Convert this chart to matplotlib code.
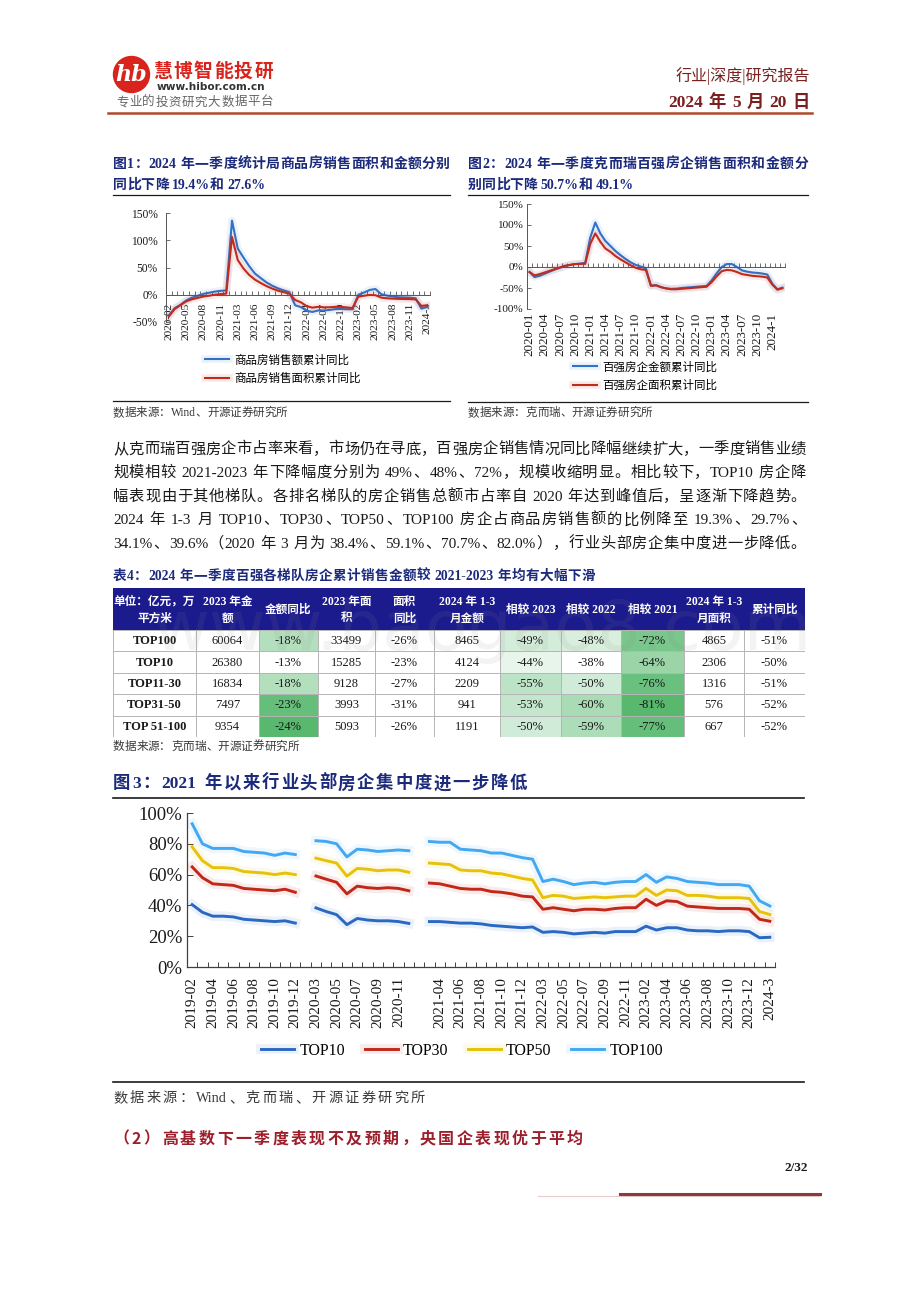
"""Report page 2: two small YoY charts, table 4 and figure 3, drawn as one page image."""

import matplotlib
matplotlib.use("Agg")
import matplotlib.pyplot as plt
import matplotlib.patheffects as pe
import numpy as np
from matplotlib.colors import LinearSegmentedColormap, Normalize
from matplotlib.lines import Line2D
from matplotlib.patches import Circle, Rectangle

CJK = "Noto Sans CJK SC"
SERIF = ["Liberation Serif", CJK]
plt.rcParams["font.family"] = [CJK, "DejaVu Sans"]
plt.rcParams["axes.unicode_minus"] = False

W, H = 920, 1301
NAVY = "#1c2a7c"
INK = "#1a1a1a"
GREY = "#3a3a3a"
BLUE = "#2f72c8"
RED = "#c22a1c"
BRICK = "#7a1f1f"
NA = float("nan")

# ---- figure 1: NBS commodity housing, cumulative YoY (%), 2020-02 .. 2024-03
FIG1_TICKS = ["2020-02", "2020-05", "2020-08", "2020-11", "2021-03", "2021-06", "2021-09",
              "2021-12", "2022-04", "2022-07", "2022-10", "2023-02", "2023-05", "2023-08",
              "2023-11", "2024-3"]
FIG1_AMOUNT = [-38, -24.7, -18.6, -10.6, -5.4, -2.1, 1.6, 3.7, 5.8, 7.2, 8.0,
               136, 85, 68.2, 52.4, 38.9, 30.7, 22.8, 16.6, 11.8, 8.0, 4.8,
               -19.3, -22.7, -29.5, -31.5, -28.9, -28.8, -27.9, -26.3, -26.1, -26.6, -26.7,
               -0.1, 4.1, 8.8, 10.5, 1.1, -1.5, -3.2, -4.6, -4.9, -5.2, -6.5,
               -25.5, -22.5]
FIG1_AREA = [-39.9, -26.3, -19.3, -12.3, -8.4, -5.8, -3.3, -1.8, 0.0, 1.3, 2.0,
             106, 63.8, 48.1, 36.3, 27.7, 21.5, 15.9, 11.3, 7.5, 4.8, 1.9,
             -9.6, -13.8, -20.9, -23.6, -22.2, -23.1, -23.0, -22.2, -22.3, -23.3, -24.3,
             -3.6, -1.8, -0.4, -0.9, -5.3, -6.5, -7.1, -7.5, -7.8, -8.0, -8.5,
             -20.5, -19.4]
FIG1_NAMES = ["商品房销售额累计同比", "商品房销售面积累计同比"]
FIG1_YTICKS = [-50, 0, 50, 100, 150]

# ---- figure 2: CRIC top-100 developers, cumulative YoY (%), 2020-01 .. 2024-03
FIG2_TICKS = ["2020-01", "2020-04", "2020-07", "2020-10", "2021-01", "2021-04", "2021-07",
              "2021-10", "2022-01", "2022-04", "2022-07", "2022-10", "2023-01", "2023-04",
              "2023-07", "2023-10", "2024-1"]
FIG2_AMOUNT = [-12, -24, -21, -16, -11, -6, -2, 2, 5, 7, 8, 10,
               70, 106, 80, 62, 50, 38, 28, 19, 11, 5, 1, -3,
               -44, -43, -48, -51, -52, -51.5, -50, -49, -48, -47, -46, -45,
               -32, -15, 0, 7, 7, 0, -8, -11, -13, -14, -15.5, -18, -40, -53, -49.1]
FIG2_AREA = [-12, -20, -17, -13, -9, -5, -1, 3, 5, 7, 7.5, 7.5,
             55, 80, 60, 44, 36, 26, 18, 11, 4, -2, -5.5, -7,
             -45, -44, -48, -51, -53, -53, -52, -51, -50, -49, -48, -47,
             -36, -22, -10, -7, -8, -12, -17, -19, -21, -22, -23, -25, -42, -54, -50.7]
FIG2_NAMES = ["百强房企金额累计同比", "百强房企面积累计同比"]
FIG2_YTICKS = [-100, -50, 0, 50, 100, 150]

# ---- table 4
TABLE_HEAD = ["单位：亿元，万\n平方米", "2023 年金\n额", "金额同比", "2023 年面\n积", "面积\n同比",
              "2024 年 1-3\n月金额", "相较 2023", "相较 2022", "相较 2021", "2024 年 1-3\n月面积",
              "累计同比"]
TIERS = ["TOP100", "TOP10", "TOP11-30", "TOP31-50", "TOP 51-100"]
AMOUNT_2023 = [60064, 26380, 16834, 7497, 9354]
AMOUNT_YOY = [-18, -13, -18, -23, -24]
AREA_2023 = [33499, 15285, 9128, 3993, 5093]
AREA_YOY = [-26, -23, -27, -31, -26]
AMOUNT_Q1 = [8465, 4124, 2209, 941, 1191]
VS_2023 = [-49, -44, -55, -53, -50]
VS_2022 = [-48, -38, -50, -60, -59]
VS_2021 = [-72, -64, -76, -81, -77]
AREA_Q1 = [4865, 2306, 1316, 576, 667]
AREA_CUM_YOY = [-51, -50, -51, -52, -52]

# ---- figure 3: market share of top developers (%), gaps where Jan/Feb were not reported
FIG3_TICKS = ["2019-02", "2019-04", "2019-06", "2019-08", "2019-10", "2019-12", "2020-03",
              "2020-05", "2020-07", "2020-09", "2020-11", "", "2021-04", "2021-06", "2021-08",
              "2021-10", "2021-12", "2022-03", "2022-05", "2022-07", "2022-09", "2022-11",
              "2023-02", "2023-04", "2023-06", "2023-08", "2023-10", "2023-12", "2024-3"]
FIG3_TOP10 = [40.5, 35.5, 33, 33, 32.5, 31, 30.5, 30, 29.5, 30, 28.5, NA,
              38.4, 36, 34, 27.5, 31.5, 30.5, 30, 30, 29.5, 28.3, NA,
              29.5, 29.5, 29, 28.5, 28.5, 28, 27, 26.5, 26, 25.5, 26,
              22.5, 23, 22.5, 21.5, 22, 22.5, 22, 23, 23, 23,
              26.5, 24, 25.5, 25.5, 24, 23.5, 23.5, 23, 23.5, 23.5, 23, 19, 19.3]
FIG3_TOP30 = [65, 58, 54, 53.5, 53, 51, 50.5, 50, 49.5, 50.5, 48.5, NA,
              59.1, 57, 55, 47.5, 52.5, 51.5, 51, 51.5, 51, 49.5, NA,
              54.5, 54, 52.5, 51, 50.5, 50.5, 49, 48.5, 47.5, 46, 45.5,
              37.5, 38.5, 37.5, 36.5, 37.5, 37.5, 37, 38, 38.5, 38.5,
              44, 40, 43, 42.5, 39.5, 39, 38.5, 38, 38, 38, 37.5, 31, 29.7]
FIG3_TOP50 = [78, 69, 64.5, 64.5, 64, 62, 61.5, 61, 60, 61, 60, NA,
              70.7, 69, 67.5, 59, 64, 63.5, 62.5, 63, 63, 61.5, NA,
              67.5, 67, 66.5, 63, 62.5, 62.5, 61, 60.5, 59, 57.5, 56.5,
              45, 46.5, 46, 44.5, 45, 45.5, 45, 45.5, 46, 46,
              51, 46.5, 50, 49.5, 46.5, 46.5, 46, 45, 45, 45, 44.5, 36, 34.1]
FIG3_TOP100 = [93, 80, 77, 77, 77, 75, 74.5, 74, 72.5, 74, 73, NA,
               82.0, 81.5, 80, 71.5, 76.5, 76, 75, 75.5, 76, 75.5, NA,
               81.5, 81, 81, 76.5, 76, 75.5, 74, 74, 72.5, 71, 70,
               55.5, 57, 55.5, 53.5, 54.5, 55, 54, 55, 55.5, 55.5,
               60, 55, 58.5, 57.5, 55.5, 55, 54.5, 53.5, 53.5, 53.5, 52.5, 43, 39.6]
FIG3_NAMES = ["TOP10", "TOP30", "TOP50", "TOP100"]
FIG3_COLORS = ["#2b68c2", "#c0281a", "#e6c20a", "#44a8f0"]
FIG3_YTICKS = [0, 20, 40, 60, 80, 100]

PARAGRAPH = [
    "从克而瑞百强房企市占率来看，市场仍在寻底，百强房企销售情况同比降幅继续扩大，一季度销售业绩",
    "规模相较 2021-2023 年下降幅度分别为 49%、48%、72%，规模收缩明显。相比较下，TOP10 房企降",
    "幅表现由于其他梯队。各排名梯队的房企销售总额市占率自 2020 年达到峰值后，呈逐渐下降趋势。",
    "2024 年 1-3 月 TOP10、TOP30、TOP50、TOP100 房企占商品房销售额的比例降至 19.3%、29.7%、",
    "34.1%、39.6%（2020 年 3 月为 38.4%、59.1%、70.7%、82.0%），行业头部房企集中度进一步降低。",
]

fig = plt.figure(figsize=(W / 100, H / 100), dpi=100)
fig.patch.set_facecolor("white")


def fx(x):
    return x / W


def fy(y):
    return 1 - y / H


def rule(x0, x1, y, color=INK, lw=0.9):
    fig.add_artist(Line2D([fx(x0), fx(x1)], [fy(y), fy(y)], color=color, lw=lw,
                          transform=fig.transFigure))


def tokens(s):
    out, word = [], ""
    for ch in s:
        if ch.isascii() and ch != " ":
            word += ch
            continue
        if word:
            out.append(word)
            word = ""
        out.append(ch)
    if word:
        out.append(word)
    return out


def text_width(s, size, weight, family):
    t = fig.text(0, 0, s, fontsize=size, weight=weight, family=family)
    w = t.get_window_extent(renderer=fig.canvas.get_renderer()).width
    t.remove()
    return w


def spread(s, x0, y, size, x1=None, color=INK, weight="normal", family=SERIF):
    """Write s from x0 at centre height y; with x1 the glyphs are justified to end there."""
    toks = tokens(s)
    widths = [size * 0.35 if t == " " else text_width(t, size, weight, family) for t in toks]
    gap = 0.0
    if x1 is not None and len(toks) > 1:
        gap = (x1 - x0 - sum(widths)) / (len(toks) - 1)
    base = y + size * 100 / 72 * 0.36
    x = x0
    for t, w in zip(toks, widths):
        if t != " ":
            fig.text(fx(x), fy(base), t, fontsize=size, weight=weight, family=family,
                     color=color, va="baseline", ha="left")
        x += w + gap


def glow(color, width=5.5):
    return [pe.Stroke(linewidth=width, foreground=color, alpha=0.09), pe.Normal()]


def header():
    fig.add_artist(Circle((131.5 / 100, (H - 74.5) / 100), 0.18, color="#d8241c",
                          transform=fig.dpi_scale_trans))
    fig.text(fx(131.5), fy(75), "hb", color="white", fontsize=16, weight="bold",
             style="italic", family="DejaVu Serif", ha="center", va="center")
    spread("慧博智能投研", 153, 70, 13.5, x1=273, color="#d8241c", weight="bold", family=[CJK])
    fig.text(fx(157), fy(87), "www.hibor.com.cn", fontsize=7.6, color="#333333",
             family="DejaVu Sans", weight="bold", va="center")
    spread("专业的投资研究大数据平台", 116, 101, 9, x1=273, color="#666666", family=[CJK])
    fig.text(fx(810), fy(76), "行业|深度|研究报告", fontsize=11.5, color=BRICK,
             family=SERIF, ha="right", va="center")
    spread("2024 年 5 月 20 日", 668, 101, 12.5, x1=810, color=BRICK, weight="bold")
    rule(108, 812, 113, color="#ad4a2c", lw=1.8)


def yoy_chart(box, blue, red, ticks, yticks, names, xpad, xsize, ysize, ypad, legend_xy):
    left, top, right, bottom = box
    ax = fig.add_axes([fx(left), fy(bottom), (right - left) / W, (bottom - top) / H])
    # move the x axis onto the zero line first: set_position resets the tick labels
    ax.spines["bottom"].set_position(("data", 0))
    x = np.arange(len(blue))
    lines = []
    for vals, color in ((blue, BLUE), (red, RED)):
        lines += ax.plot(x, vals, color=color, lw=1.5, path_effects=glow(color))
    ax.set_xlim(-0.5, len(blue) - 0.5)
    ax.set_ylim(yticks[0], yticks[-1])
    ax.set_yticks(yticks, [f"{v}%" for v in yticks], family=SERIF, fontsize=ysize)
    ax.set_xticks(x[::3], ticks, rotation=90, family=SERIF, fontsize=xsize)
    ax.set_xticks(np.arange(-0.5, len(blue)), minor=True)
    ax.spines[["top", "right"]].set_visible(False)
    for side in ("left", "bottom"):
        ax.spines[side].set_color("#555555")
        ax.spines[side].set_linewidth(0.7)
    ax.tick_params(axis="x", which="major", length=0, pad=xpad, colors=INK)
    ax.tick_params(axis="x", which="minor", direction="in", length=3, width=0.6, color="#555555")
    ax.tick_params(axis="y", direction="in", length=3, width=0.6, color="#555555", pad=ypad,
                   colors=INK)
    ax.set_facecolor("none")
    fig.legend(lines, names, loc="center left", bbox_to_anchor=legend_xy, frameon=False,
               borderpad=0, borderaxespad=0, handlelength=2.1, handletextpad=0.45,
               labelspacing=0.45, prop={"family": CJK, "size": 8.3})


def figure_1():
    spread("图1：2024 年一季度统计局商品房销售面积和金额分别", 113, 163, 10, x1=450,
           color=NAVY, weight="bold")
    spread("同比下降 19.4%和 27.6%", 113, 184, 10, color=NAVY, weight="bold")
    rule(113, 450, 195)
    yoy_chart((166, 213, 430, 322), FIG1_AMOUNT, FIG1_AREA, FIG1_TICKS, FIG1_YTICKS,
              FIG1_NAMES, 5.5, 8.2, 8.3, 6, (fx(205), fy(369)))
    rule(113, 450, 401.5)
    spread("数据来源：Wind、开源证券研究所", 113, 412, 8.3, color=GREY)


def figure_2():
    spread("图2：2024 年一季度克而瑞百强房企销售面积和金额分", 468, 163, 10, x1=808,
           color=NAVY, weight="bold")
    spread("别同比下降 50.7%和 49.1%", 468, 184, 10, color=NAVY, weight="bold")
    rule(468, 808, 195)
    yoy_chart((527, 204, 785, 309), FIG2_AMOUNT, FIG2_AREA, FIG2_TICKS, FIG2_YTICKS,
              FIG2_NAMES, 33, 9.4, 8, 2.5, (fx(573), fy(376)))
    rule(468, 808, 402)
    spread("数据来源：克而瑞、开源证券研究所", 468, 412, 8.3, color=GREY)


def paragraph():
    for i, line in enumerate(PARAGRAPH):
        spread(line, 113, 448 + 23.6 * i, 11, x1=806, color=INK)


def table():
    spread("表4：2024 年一季度百强各梯队房企累计销售金额较 2021-2023 年均有大幅下滑", 113, 575, 9.8,
           x1=595, color=NAVY, weight="bold")
    cols = [113, 196, 259, 318, 375, 434, 500, 561, 621, 684, 744, 805]
    top, head_h, row_h = 588, 42, 21.4
    bottom = top + head_h + row_h * len(TIERS)
    ax = fig.add_axes([fx(cols[0]), fy(bottom), (cols[-1] - cols[0]) / W, (bottom - top) / H])
    ax.set_xlim(cols[0], cols[-1])
    ax.set_ylim(bottom, top)
    ax.axis("off")

    ax.add_patch(Rectangle((cols[0], top), cols[-1] - cols[0], head_h, color="#1b1b8e", lw=0))
    for i, head in enumerate(TABLE_HEAD):
        ax.text((cols[i] + cols[i + 1]) / 2, top + head_h / 2 + 1, head, color="white",
                fontsize=8.4, weight="bold", family=SERIF, ha="center", va="center",
                linespacing=1.55)

    # deeper green = bigger fall; one scale for 金额同比, one shared by the three 相较 columns
    green = LinearSegmentedColormap.from_list("green", ["#57b86e", "#ffffff"])
    yoy_norm = Normalize(vmin=-24, vmax=-13)
    vs_norm = Normalize(vmin=-81, vmax=-38)
    columns = [AMOUNT_2023, AMOUNT_YOY, AREA_2023, AREA_YOY, AMOUNT_Q1, VS_2023, VS_2022,
               VS_2021, AREA_Q1, AREA_CUM_YOY]
    percent = {1, 3, 5, 6, 7, 9}
    for r, tier in enumerate(TIERS):
        y0 = top + head_h + r * row_h
        cy = y0 + row_h / 2 + 0.5
        ax.text((cols[0] + cols[1]) / 2, cy, tier, fontsize=9, weight="bold",
                family="Liberation Serif", ha="center", va="center", color=INK)
        for c, values in enumerate(columns):
            v = values[r]
            shade = None
            if c == 1:
                shade = green(yoy_norm(v))
            elif c in (5, 6, 7):
                shade = green(vs_norm(v))
            if shade is not None:
                ax.add_patch(Rectangle((cols[c + 1], y0), cols[c + 2] - cols[c + 1], row_h,
                                       color=shade, lw=0))
            label = f"{v}%" if c in percent else f"{v}"
            ax.text((cols[c + 1] + cols[c + 2]) / 2, cy, label, fontsize=9,
                    family="Liberation Serif", ha="center", va="center", color=INK)

    grid = "#b5b5b5"
    for r in range(len(TIERS) + 1):
        y = top + head_h + r * row_h
        ax.plot([cols[0], cols[-1]], [y, y], color=grid, lw=0.7)
    for x in cols:
        ax.plot([x, x], [top + head_h, bottom], color=grid, lw=0.7)

    # faint site watermark that sits over the table in the source page
    fig.text(fx(482), fy(630), "www.baogao8.com", fontsize=50, color="#8c8c8c", alpha=0.1,
             family="DejaVu Sans", ha="center", va="center")
    spread("数据来源：克而瑞、开源证券研究所", 113, 746, 8.4, color=GREY)


def figure_3():
    spread("图3：2021 年以来行业头部房企集中度进一步降低", 113, 782, 12.5, x1=527,
           color=NAVY, weight="bold")
    rule(113, 804, 798, lw=1.2)
    ax = fig.add_axes([fx(187), fy(967), (775 - 187) / W, (967 - 813) / H])
    series = [FIG3_TOP10, FIG3_TOP30, FIG3_TOP50, FIG3_TOP100]
    x = np.arange(len(FIG3_TOP10))
    for vals, name, color in zip(series, FIG3_NAMES, FIG3_COLORS):
        ax.plot(x, vals, color=color, lw=2.1, label=name, path_effects=glow(color, 7))
    ax.set_xlim(-0.5, len(x) - 0.5)
    ax.set_ylim(0, 100)
    ax.set_yticks(FIG3_YTICKS, [f"{v}%" for v in FIG3_YTICKS], family=SERIF, fontsize=13.5)
    ax.set_xticks(x[::2], FIG3_TICKS, rotation=90, family=SERIF, fontsize=11)
    ax.set_xticks(np.arange(-0.5, len(x)), minor=True)
    ax.spines[["top", "right"]].set_visible(False)
    for side in ("left", "bottom"):
        ax.spines[side].set_color("#404040")
        ax.spines[side].set_linewidth(0.9)
    ax.tick_params(axis="x", which="major", length=0, pad=7, colors=INK)
    ax.tick_params(axis="x", which="minor", direction="in", length=3.5, width=0.7, color="#404040")
    ax.tick_params(axis="y", direction="in", length=4, width=0.7, color="#404040", pad=3.5,
                   colors=INK)
    ax.set_facecolor("none")
    fig.legend(*ax.get_legend_handles_labels(), loc="center", bbox_to_anchor=(fx(462), fy(1051)),
               ncol=4, frameon=False, handlelength=2.1, handletextpad=0.3, columnspacing=1.25,
               prop={"family": SERIF, "size": 11.4})
    rule(113, 804, 1082, lw=1.2)
    spread("数据来源：Wind、克而瑞、开源证券研究所", 113, 1097, 10.2, x1=425, color=GREY)


def footer():
    spread("（2）高基数下一季度表现不及预期，央国企表现优于平均", 113, 1138, 11.5, x1=583,
           color="#9c1f2b", weight="bold", family=[CJK])
    fig.text(fx(808), fy(1168), "2/32", fontsize=9.5, weight="bold", family="Liberation Serif",
             ha="right", va="center", color=INK)
    rule(538, 820, 1196, color="#e6cccc", lw=0.8)
    rule(620, 820, 1194, color="#8c3a3a", lw=2.2)


def main():
    header()
    figure_1()
    figure_2()
    paragraph()
    table()
    figure_3()
    footer()
    fig.savefig("out.png", dpi=100)


if __name__ == "__main__":
    main()
